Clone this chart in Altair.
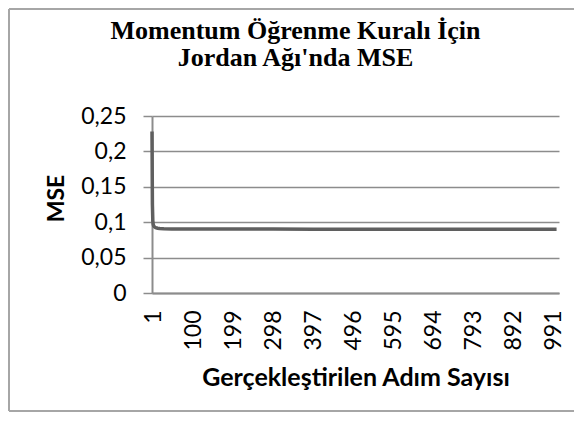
import altair as alt
import pandas as pd

# Data
steps = [1, 2, 3, 4, 5, 6, 8, 10, 15, 20, 30, 50, 100, 200, 300, 400, 500, 600, 700, 800, 900, 1000]
mse = [0.228, 0.125, 0.102, 0.097, 0.095, 0.094, 0.093, 0.0922, 0.0915, 0.0910, 0.0907, 0.0905,
       0.0904, 0.0903, 0.0903, 0.0902, 0.0902, 0.0902, 0.0902, 0.0902, 0.0902, 0.0902]
x_ticks = [1, 100, 199, 298, 397, 496, 595, 694, 793, 892, 991]
y_ticks = [0, 0.05, 0.1, 0.15, 0.2, 0.25]
title_lines = ["Momentum Öğrenme Kuralı İçin", "Jordan Ağı'nda MSE"]
x_title = "Gerçekleştirilen Adım Sayısı"
y_title = "MSE"

df = pd.DataFrame({"step": steps, "mse": mse})

W, H = 407, 177
GRID = "#8c8c8c"

line = alt.Chart(df).mark_line(color="#5f5f5f", strokeWidth=3.5).encode(
    x=alt.X(
        "step:Q",
        scale=alt.Scale(domain=[1, 1006], nice=False, zero=False),
        axis=alt.Axis(
            values=x_ticks,
            title=x_title,
            labelAngle=270,
            labelAlign="right",
            labelBaseline="middle",
            labelPadding=17,
            labelOffset=1,
            ticks=False,
            grid=False,
            domainColor=GRID,
            domainWidth=2,
            labelFont="Lato",
            labelFontSize=23,
            labelColor="black",
            titleFont="Lato",
            titleFontSize=25,
            titleFontWeight="bold",
            titleColor="black",
            titleY=92,
            titleBaseline="alphabetic",
            labelOverlap=False,
        ),
    ),
    y=alt.Y(
        "mse:Q",
        scale=alt.Scale(domain=[0, 0.25], nice=False),
        axis=alt.Axis(
            values=y_ticks,
            title=y_title,
            labelExpr="replace(format(datum.value, '~g'), '.', ',')",
            labelPadding=17,
            tickSize=9,
            tickColor=GRID,
            tickWidth=1.5,
            grid=True,
            gridColor=GRID,
            gridWidth=1.5,
            domainColor=GRID,
            domainWidth=2,
            labelFont="Lato",
            labelFontSize=23,
            labelColor="black",
            titleFont="Lato",
            titleFontSize=23,
            titleFontWeight="bold",
            titleColor="black",
            titleAngle=270,
            titleX=-96,
            titleY=82,
            titleAlign="center",
            titleBaseline="middle",
        ),
    ),
)

border_left = alt.Chart(df).mark_rule(color="#a6a6a6", strokeWidth=2).encode(
    x=alt.value(-143), y=alt.value(-107), y2=alt.value(295)
)
border_top = alt.Chart(df).mark_rule(color="#a6a6a6", strokeWidth=2).encode(
    x=alt.value(-143), x2=alt.value(W + 15), y=alt.value(-107)
)
border_bottom = alt.Chart(df).mark_rule(color="#a6a6a6", strokeWidth=2).encode(
    x=alt.value(-143), x2=alt.value(W + 15), y=alt.value(295)
)

chart = (
    alt.layer(border_left, border_top, border_bottom, line)
    .properties(
        width=W,
        height=H,
        autosize=alt.AutoSizeParams(type="none"),
        padding={"left": 144, "top": 108, "right": 15, "bottom": 120},
        title=alt.TitleParams(
            text=title_lines,
            font="Liberation Serif",
            fontSize=26,
            fontWeight="bold",
            color="black",
            anchor="middle",
            frame="group",
            dx=-60,
            offset=-63,
            lineHeight=27,
        ),
    )
    .configure_view(stroke=None)
)

chart.save("out.html", embed_options={"renderer": "svg", "actions": False})
